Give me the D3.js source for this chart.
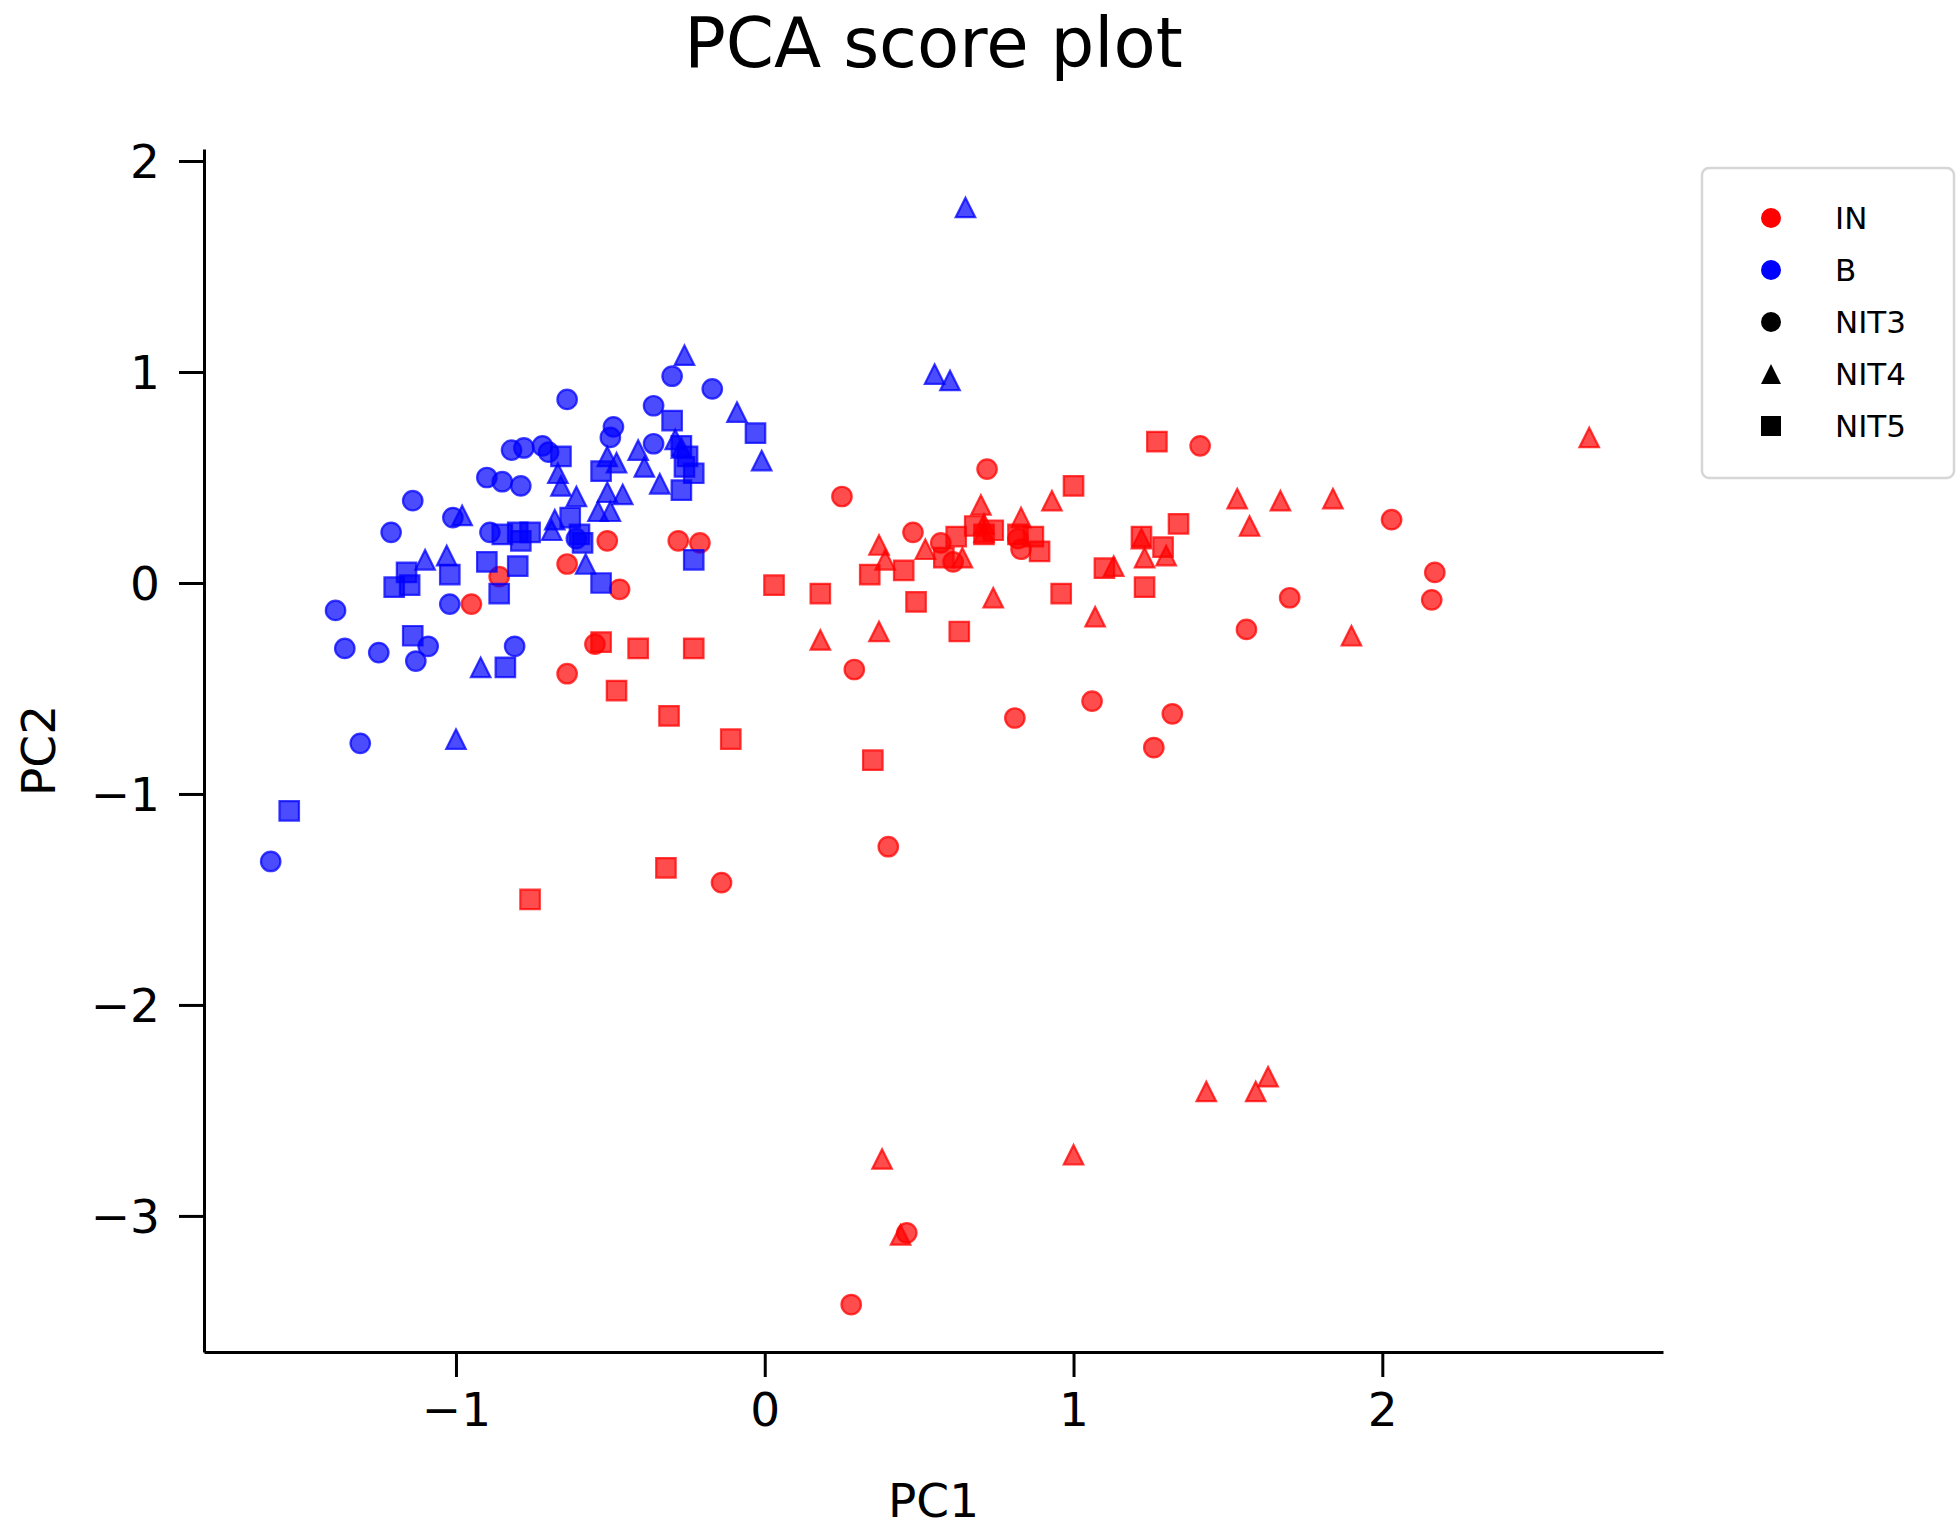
<!DOCTYPE html>
<meta charset="utf-8">
<style type="text/css">
  body { margin: 0; background: #fff; }
  text { font-family: "DejaVu Sans", sans-serif; fill: #000; }
  .axis path, .axis line { stroke: #000; stroke-width: 3px; }
</style>
<body>
<div class="chart"></div>
<script src="https://d3js.org/d3.v7.min.js"></script>
<script>

// PC1 / PC2 scores, one array per group and NIT level
var inNit3 = [
  [-0.95,-0.10],[-0.86,0.03],[-0.64,0.09],[-0.47,-0.03],[-0.55,-0.29],[-0.64,-0.43],
  [-0.14,-1.42],[-0.28,0.20],[-0.21,0.19],[-0.51,0.20],[0.25,0.41],[0.72,0.54],
  [1.41,0.65],[0.48,0.24],[0.57,0.19],[0.61,0.10],[0.83,0.16],[0.82,0.21],
  [0.29,-0.41],[2.03,0.30],[2.17,0.05],[2.16,-0.08],[1.70,-0.07],[1.56,-0.22],
  [0.81,-0.64],[1.06,-0.56],[1.32,-0.62],[1.26,-0.78],[0.40,-1.25],[0.46,-3.08],
  [0.28,-3.42]
];
var inNit4 = [
  [0.93,0.39],[0.70,0.37],[0.83,0.31],[0.37,0.18],[0.39,0.11],[0.18,-0.27],
  [0.37,-0.23],[0.52,0.16],[0.64,0.12],[0.71,0.28],[0.71,0.24],[0.74,-0.07],
  [1.13,0.08],[1.07,-0.16],[1.22,0.21],[1.23,0.12],[1.30,0.13],[1.53,0.40],
  [1.57,0.27],[2.67,0.69],[1.67,0.39],[1.84,0.40],[1.90,-0.25],[0.38,-2.73],
  [1.00,-2.71],[1.43,-2.41],[1.59,-2.41],[1.63,-2.34],[0.44,-3.09]
];
var inNit5 = [
  [-0.53,-0.28],[-0.41,-0.31],[-0.23,-0.31],[-0.48,-0.51],[-0.31,-0.63],[-0.11,-0.74],
  [0.03,-0.01],[-0.32,-1.35],[-0.76,-1.50],[1.27,0.67],[1.00,0.46],[0.34,0.04],
  [0.45,0.06],[0.18,-0.05],[0.49,-0.09],[0.63,-0.23],[0.62,0.22],[0.58,0.12],
  [0.68,0.27],[0.71,0.23],[0.74,0.25],[0.82,0.23],[0.87,0.22],[0.89,0.15],
  [0.96,-0.05],[1.10,0.07],[1.22,0.22],[1.29,0.17],[1.34,0.28],[1.23,-0.02],
  [0.35,-0.84]
];
var bNit3 = [
  [-0.64,0.87],[-0.30,0.98],[-0.17,0.92],[-0.36,0.84],[-0.49,0.74],[-0.50,0.69],
  [-0.36,0.66],[-0.82,0.63],[-0.78,0.64],[-0.72,0.65],[-0.70,0.62],[-0.90,0.50],
  [-0.85,0.48],[-0.79,0.46],[-1.14,0.39],[-1.01,0.31],[-1.21,0.24],[-0.89,0.24],
  [-0.61,0.21],[-1.02,-0.10],[-1.39,-0.13],[-1.36,-0.31],[-1.25,-0.33],[-1.09,-0.30],
  [-1.13,-0.37],[-0.81,-0.30],[-1.31,-0.76],[-1.60,-1.32]
];
var bNit4 = [
  [-0.26,1.08],[-0.09,0.81],[-0.01,0.58],[-0.41,0.63],[-0.39,0.55],[-0.34,0.47],
  [-0.51,0.60],[-0.48,0.57],[-0.29,0.68],[-0.27,0.64],[-0.67,0.52],[-0.66,0.46],
  [-0.61,0.41],[-0.51,0.43],[-0.46,0.42],[-0.54,0.34],[-0.50,0.34],[-0.68,0.30],
  [-0.69,0.25],[-0.98,0.32],[-1.10,0.11],[-1.03,0.13],[-0.58,0.09],[-0.92,-0.40],
  [-1.00,-0.74],[0.65,1.78],[0.55,0.99],[0.60,0.96]
];
var bNit5 = [
  [-0.30,0.77],[-0.03,0.71],[-0.66,0.60],[-0.27,0.65],[-0.25,0.60],[-0.26,0.55],
  [-0.23,0.52],[-0.27,0.44],[-0.53,0.53],[-0.85,0.23],[-0.80,0.24],[-0.79,0.20],
  [-0.76,0.24],[-0.63,0.31],[-0.60,0.23],[-0.59,0.19],[-0.23,0.11],[-0.90,0.10],
  [-0.80,0.08],[-1.16,0.05],[-1.02,0.04],[-1.20,-0.02],[-1.15,-0.01],[-0.86,-0.05],
  [-0.53,0.00],[-1.14,-0.25],[-0.84,-0.40],[-1.54,-1.08]
];

var groups = ["IN", "B"];
var levels = ["NIT3", "NIT4", "NIT5"];
var xTicks = [-1, 0, 1, 2];
var yTicks = [-3, -2, -1, 0, 1, 2];

var series = [
  {group: "IN", level: "NIT3", values: inNit3},
  {group: "IN", level: "NIT4", values: inNit4},
  {group: "IN", level: "NIT5", values: inNit5},
  {group: "B",  level: "NIT3", values: bNit3},
  {group: "B",  level: "NIT4", values: bNit4},
  {group: "B",  level: "NIT5", values: bNit5}
];

var width = 1957, height = 1532;
var margin = {top: 149, right: 294, bottom: 180, left: 204};

var color = d3.scaleOrdinal().domain(groups).range(["#ff0000", "#0000ff"]);

var x = d3.scaleLinear().domain([-1.816, 2.909]).range([margin.left, width - margin.right]);
var y = d3.scaleLinear().domain([-3.645, 2.057]).range([height - margin.bottom, margin.top]);

// matplotlib style triangle: centred on its bounding box
function triangle(s) {
  var h = s / 2;
  return "M0," + (-h) + "L" + h + "," + h + "L" + (-h) + "," + h + "Z";
}
function marker(level, s) {
  if (level === "NIT3") return d3.symbol().type(d3.symbolCircle).size(Math.PI * s * s / 4)();
  if (level === "NIT4") return triangle(s);
  return d3.symbol().type(d3.symbolSquare).size(s * s)();
}

var svg = d3.select(".chart").append("svg")
    .attr("width", width)
    .attr("height", height);

svg.append("rect").attr("width", width).attr("height", height).attr("fill", "#fff");

svg.append("text")
    .attr("x", (x.range()[0] + x.range()[1]) / 2)
    .attr("y", 67)
    .attr("text-anchor", "middle")
    .style("font-size", "69px")
    .text("PCA score plot");

// points
series.forEach(function(s) {
  svg.append("g")
    .selectAll("path")
    .data(s.values)
    .enter()
    .append("path")
      .attr("transform", function(d) { return "translate(" + x(d[0]) + "," + y(d[1]) + ")"; })
      .attr("d", marker(s.level, 19.5))
      .attr("fill", color(s.group))
      .attr("fill-opacity", 0.7)
      .attr("stroke", color(s.group))
      .attr("stroke-opacity", 0.75)
      .attr("stroke-width", 2.2);
});

var xAxis = svg.append("g")
    .attr("class", "axis")
    .attr("transform", "translate(0," + (height - margin.bottom) + ")")
    .call(d3.axisBottom(x).tickValues(xTicks).tickFormat(d3.format("d"))
      .tickSize(25).tickSizeOuter(0).tickPadding(16));

var yAxis = svg.append("g")
    .attr("class", "axis")
    .attr("transform", "translate(" + margin.left + ",0)")
    .call(d3.axisLeft(y).tickValues(yTicks).tickFormat(d3.format("d"))
      .tickSize(25).tickSizeOuter(0).tickPadding(19));

svg.selectAll(".axis").attr("font-family", null).attr("font-size", null);
svg.selectAll(".axis text")
    .style("font-size", "47px")
    .style("font-family", "'DejaVu Sans'");
yAxis.selectAll("text").attr("dy", "0.36em");

svg.append("text")
    .attr("x", (x.range()[0] + x.range()[1]) / 2)
    .attr("y", 1517)
    .attr("text-anchor", "middle")
    .style("font-size", "47px")
    .text("PC1");

svg.append("text")
    .attr("transform", "translate(55," + (y.range()[0] + y.range()[1]) / 2 + ") rotate(-90)")
    .attr("text-anchor", "middle")
    .style("font-size", "47px")
    .text("PC2");

// legend
var legendItems = [
  {label: "IN", fill: color("IN"), level: "NIT3"},
  {label: "B", fill: color("B"), level: "NIT3"},
  {label: "NIT3", fill: "#000", level: "NIT3"},
  {label: "NIT4", fill: "#000", level: "NIT4"},
  {label: "NIT5", fill: "#000", level: "NIT5"}
];

var legend = svg.append("g").attr("transform", "translate(1702,168)");

legend.append("rect")
    .attr("width", 252)
    .attr("height", 310)
    .attr("rx", 7)
    .attr("fill", "#fff")
    .attr("stroke", "#d6d6d6")
    .attr("stroke-width", 2.5);

var rows = legend.selectAll(".row")
    .data(legendItems)
    .enter()
    .append("g")
      .attr("class", "row")
      .attr("transform", function(d, i) { return "translate(0," + (50 + i * 52) + ")"; });

rows.append("path")
    .attr("transform", "translate(69,0)")
    .attr("d", function(d) { return marker(d.level, 20); })
    .attr("fill", function(d) { return d.fill; });

rows.append("text")
    .attr("x", 133)
    .attr("dy", "0.36em")
    .style("font-size", "31px")
    .text(function(d) { return d.label; });

</script>
</body>
